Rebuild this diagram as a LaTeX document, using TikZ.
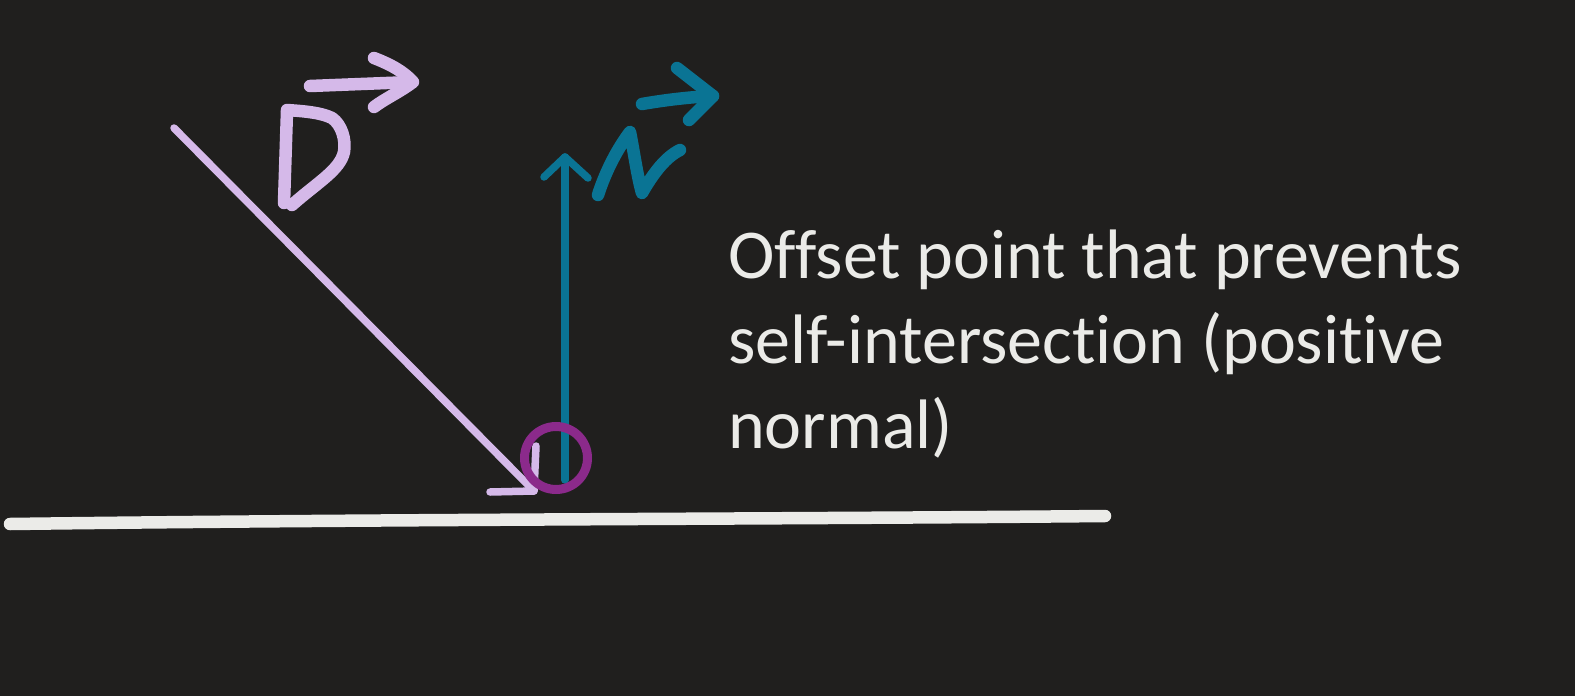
\documentclass[tikz,border=0pt]{standalone}
\usepackage{fontspec}
\setmainfont{Carlito}[Ligatures=NoCommon]
\definecolor{bg}{HTML}{201F1E}
\definecolor{lav}{HTML}{D5B9E9}
\definecolor{teal}{HTML}{0A7494}
\definecolor{ring}{HTML}{8B2A8B}
\definecolor{chalk}{HTML}{EBEBE8}
\tikzset{
  thin ink/.style={line width=7.5pt, line cap=round, line join=round},
  pen/.style={line width=12.5pt, line cap=round, line join=round},
  textline/.style={chalk, anchor=base west, inner sep=0pt, font=\fontsize{70}{85}\selectfont},
}
\begin{document}
\begin{tikzpicture}[x=1pt,y=-1pt]
\fill[bg] (0,0) rectangle (1575,696);
\useasboundingbox (0,0) rectangle (1575,696);
% ground
\draw[chalk, line width=12.5pt, line cap=round] (10,524) .. controls (400,519) and (800,519) .. (1105,516);
% incoming ray D
\coordinate (dstart) at (174,128);
\coordinate (dtip) at (534,491);
\draw[lav, thin ink] (dstart) -- (dtip);
\draw[lav, thin ink] (490,492) -- (dtip) -- (536,446);
% letter D
\draw[lav, pen] (287,111) -- (284,203);
\draw[lav, pen] (287,110) .. controls (300,111) and (320,112) .. (332,118) .. controls (342,125) and (346,140) .. (344,152) .. controls (340,170) and (318,182) .. (292,205);
\draw[lav, pen] (310,86) -- (412,82);
\draw[lav, pen] (374,58) .. controls (392,65) and (404,72) .. (413,82) .. controls (400,92) and (386,98) .. (374,107);
% normal N
\coordinate (nbase) at (565,480);
\coordinate (ntip) at (565,157);
\draw[teal, thin ink] (nbase) -- (ntip);
\draw[teal, thin ink] (544,177) -- (ntip) -- (588,178);
% letter N
\draw[teal, pen] (598,195) .. controls (606,170) and (618,148) .. (630,132) .. controls (634,152) and (637,175) .. (642,193) .. controls (654,172) and (666,157) .. (680,150);
\draw[teal, pen] (642,104) .. controls (665,100) and (690,97) .. (713,96);
\draw[teal, pen] (677,68) -- (713,96) -- (689,120);
% offset point ring
\node[draw=ring, line width=9pt, circle, minimum size=63pt, inner sep=0pt] (offset) at (556,458) {};
% text
\node[textline] (label1) at (728,278) {Offset point that prevents};
\node[textline] (label2) at (728,363) {self-intersection (positive};
\node[textline] (label3) at (728,448) {normal)};
\end{tikzpicture}
\end{document}
